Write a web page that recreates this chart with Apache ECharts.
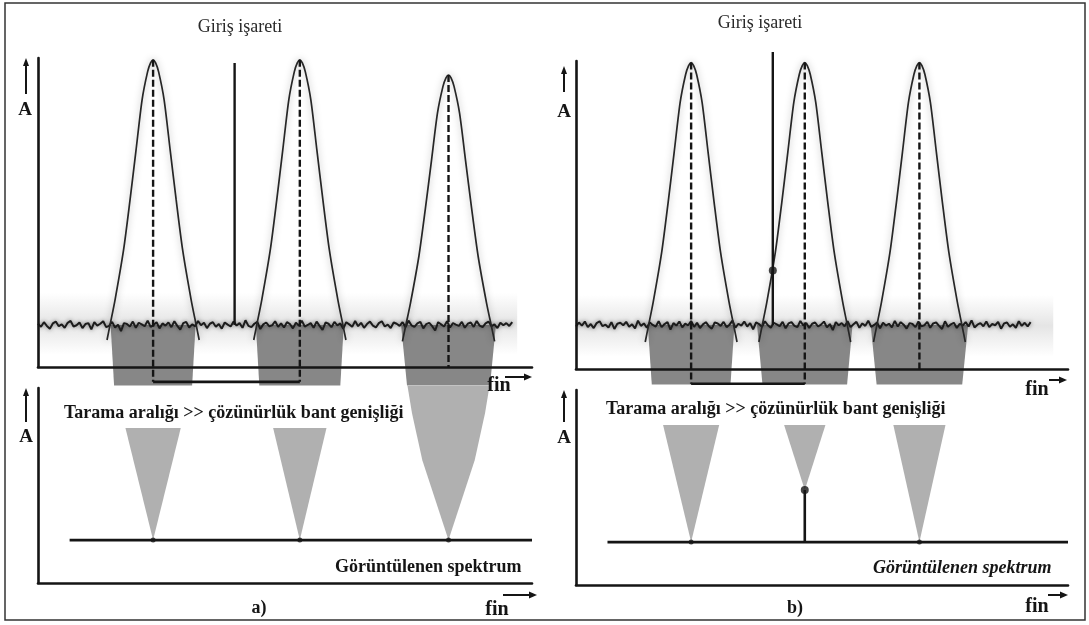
<!DOCTYPE html>
<html>
<head>
<meta charset="utf-8">
<script src="https://cdn.jsdelivr.net/npm/echarts@6.0.0/dist/echarts.min.js"></script>
<style>
  html, body { margin: 0; padding: 0; background: #fff; }
  #chart { width: 1089px; height: 625px; }
</style>
</head>
<body>
<div id="chart"></div>
<script>
// ---- data ---------------------------------------------------------------
// resolution filter centres (frequency units 0..100) and peak amplitudes
const filterCentersA = [23.3, 53.0, 83.1];
const filterPeaksA   = [9.94, 9.94, 9.45];
const filterCentersB = [23.4, 46.5, 69.8];
const filterPeaksB   = [9.95, 9.95, 9.95];

// filter response: [offset from centre, fraction of peak amplitude]
const filterShape = [
  [0, 1], [0.51, 0.99], [1.12, 0.961], [2.23, 0.87], [3.45, 0.707],
  [4.67, 0.544], [5.98, 0.381], [7.71, 0.218], [8.72, 0.137], [9.33, 0.088]
];

// input signal (Giriş işareti)
const inputSignalA = { freq: 39.8, top: 9.84 };
const inputSignalB = { freq: 40.0, top: 10.29, hit: 3.2 };

// noise floor and noise trace (offsets in hundredths of a level unit)
const noiseLevelA = 1.36;
const noiseLevelB = 1.43;
const noiseStep = 0.6;
const noiseA = [4,-6,9,-3,-12,5,11,-4,2,-9,7,13,-5,-1,8,-10,3,6,-14,9,-2,4,12,-7,-3,10,-8,1,-20,6,
  3,-5,11,-9,7,2,-4,14,-6,0,9,-11,5,-2,8,-7,12,-3,-15,6,10,-8,2,-4,13,-1,7,-10,4,9,
  -6,3,-12,8,1,-5,11,-2,6,-9,15,-3,-7,4,10,-13,2,8,-4,-1,12,-6,5,-8,9,3,-11,7,-2,14,
  -5,0,6,-9,11,-3,-16,8,4,-7,10,-1,5,-12,9,2,-6,13,-4,7,-9,3,11,-2,-8,6,12,-5,1,-10,
  8,4,-3,9,-7,14,-1,-6,5,10,-11,3,7,-4,-18,9,2,-5,12,-8,6,1,-3,10,-9,4,8,-6,13,-2,
  -7,5,11,-4,2,-10,7,-1,6,-3,9];
const noiseB = [-5,8,-2,11,-7,3,-10,6,12,-4,1,-8,9,-13,4,7,-1,10,-6,2,-11,14,-3,5,-9,8,0,-5,12,-7,
  3,9,-15,6,-2,11,-8,4,-1,13,-6,7,-10,2,9,-4,-12,8,5,-3,10,-7,1,14,-9,4,-2,11,-5,6,
  -14,8,3,-6,12,-1,-9,7,2,-4,10,-11,5,9,-3,-7,13,-2,6,-10,4,8,-5,1,11,-8,3,-17,9,-1,
  6,-4,12,-7,2,10,-9,5,-3,14,-6,0,8,-11,7,-2,4,-8,13,-5,9,1,-12,6,3,-7,11,-4,-1,10,
  -9,5,8,-3,-13,12,-6,2,7,-10,4,-2,9,-5,15,-8,1,6,-4,11,-7,3,-1,10,-12,5,8,-6,2,-9,
  12,-3,7,-5,9];

// light haze band around the noise floor: [level from, level to, freq end]
const noiseHaze = [0.4, 2.4, 97];

// sweep bracket between the first two filter positions
const bracketLevel = -0.48;

// displayed spectrum (lower plots)
const spectrumLevel = 2.2;
const spectrumStart = 6.4;
const displayedSpikeB = { freq: 46.5, level: 4.87 };

// shaded sweep funnels: rows of [level, half width]
const upperFunnelsA = [
  { c: 23.3, rows: [[1.36, 8.6], [-0.6, 7.9]] },
  { c: 53.0, rows: [[1.36, 8.9], [-0.6, 8.2]] },
  { c: 83.1, rows: [[1.36, 9.6], [-0.6, 8.4]] }
];
const lowerFunnelsA = [
  { c: 23.3, rows: [[7.95, 5.6], [2.2, 0]] },
  { c: 53.0, rows: [[7.95, 5.4], [2.2, 0]] },
  { c: 83.1, rows: [[10.1, 8.3], [8.72, 7.4], [6.3, 5.3], [2.2, 0]] }
];
const upperFunnelsB = [
  { c: 23.4, rows: [[1.43, 8.8], [-0.5, 8.0]] },
  { c: 46.5, rows: [[1.43, 9.7], [-0.5, 8.6]] },
  { c: 69.8, rows: [[1.43, 9.9], [-0.5, 8.7]] }
];
const lowerFunnelsB = [
  { c: 23.4, rows: [[8.2, 5.7], [2.2, 0]] },
  { c: 46.5, rows: [[8.2, 4.2], [4.87, 0]] },
  { c: 69.8, rows: [[8.2, 5.3], [2.2, 0]] }
];

// ---- helpers ------------------------------------------------------------
const INK = '#151515';
const SERIF = '"Liberation Serif", "DejaVu Serif", serif';

function filterCurve(c, peak) {
  const pts = [];
  for (let i = filterShape.length - 1; i > 0; i--) pts.push([c - filterShape[i][0], filterShape[i][1] * peak]);
  pts.push([c, peak]);
  for (let i = 1; i < filterShape.length; i++) pts.push([c + filterShape[i][0], filterShape[i][1] * peak]);
  return pts;
}

function funnelSeries(list, xi, color) {
  return {
    type: 'custom', xAxisIndex: xi, yAxisIndex: xi, z: 1, clip: false, silent: true,
    data: list.map(f => [f.c, f.rows[0][0]]),
    renderItem: function (params, api) {
      const f = list[params.dataIndex];
      const left = [], right = [];
      f.rows.forEach(r => {
        left.push(api.coord([f.c - r[1], r[0]]));
        right.unshift(api.coord([f.c + r[1], r[0]]));
      });
      return { type: 'polygon', shape: { points: left.concat(right) }, style: { fill: color } };
    }
  };
}

function lineSeries(xi, data, style, extra) {
  return Object.assign({
    type: 'line', xAxisIndex: xi, yAxisIndex: xi, data: data, symbol: 'none',
    clip: false, silent: true, z: 4, lineStyle: style
  }, extra || {});
}

function axisBase(gi, max) {
  return {
    type: 'value', gridIndex: gi, min: 0, max: max, z: 5,
    axisLine: { show: true, onZero: false, lineStyle: { color: INK, width: 2.6 } },
    axisTick: { show: false }, axisLabel: { show: false }, splitLine: { show: false }
  };
}

function panelSeries(top, bottom, centers, peaks, noise, noiseLevel, signal, upperF, lowerF, isB) {
  const s = [];
  // soft haze band behind the noise floor
  s.push({
    type: 'custom', xAxisIndex: top, yAxisIndex: top, z: 0, silent: true, clip: false,
    data: [[0, noiseHaze[0]]],
    renderItem: function (params, api) {
      const p0 = api.coord([0.3, noiseHaze[1]]);
      const p1 = api.coord([noiseHaze[2], noiseHaze[0]]);
      return { type: 'rect', shape: { x: p0[0], y: p0[1], width: p1[0] - p0[0], height: p1[1] - p0[1] },
        style: { fill: new echarts.graphic.LinearGradient(0, 0, 0, 1, [
          { offset: 0, color: 'rgba(220,220,220,0)' },
          { offset: 0.5, color: 'rgba(220,220,220,0.75)' },
          { offset: 1, color: 'rgba(220,220,220,0)' }
        ]) } };
    }
  });
  s.push(funnelSeries(upperF, top, '#878787'));
  s.push(funnelSeries(lowerF, bottom, '#b0b0b0'));
  // noise floor
  s.push(lineSeries(top, noise.map((v, i) => [i * noiseStep, noiseLevel + v / 100]),
    { color: '#1c1c1c', width: 2, shadowColor: 'rgba(0,0,0,0.5)', shadowBlur: 4 }, { z: 3 }));
  // filter curves
  centers.forEach((c, i) => {
    s.push(lineSeries(top, filterCurve(c, peaks[i]),
      { color: '#262626', width: 1.7, shadowColor: 'rgba(0,0,0,0.35)', shadowBlur: 7 }, { smooth: 0.25 }));
  });
  // dashed centre markers
  centers.forEach((c, i) => {
    const end = i < 2 ? bracketLevel : 0;
    s.push(lineSeries(top, [[c, peaks[i]], [c, end]], { color: INK, width: 2.4, type: [7, 3] }));
  });
  // bracket between first two centres
  s.push(lineSeries(top, [[centers[0], bracketLevel], [centers[1], bracketLevel]], { color: INK, width: 2.6 }));
  // input signal
  s.push(lineSeries(top, [[signal.freq, signal.top], [signal.freq, noiseLevel]], { color: INK, width: 2.4 }));
  if (isB) {
    s.push({ type: 'scatter', xAxisIndex: top, yAxisIndex: top, symbolSize: 8, z: 6, silent: true,
      itemStyle: { color: INK }, data: [[signal.freq, signal.hit]] });
  }
  // displayed spectrum
  s.push(lineSeries(bottom, [[spectrumStart, spectrumLevel], [100, spectrumLevel]], { color: INK, width: 2.6 }));
  const dots = isB ? [centers[0], centers[2]] : centers;
  s.push({ type: 'scatter', xAxisIndex: bottom, yAxisIndex: bottom, symbolSize: 5, z: 6, silent: true,
    itemStyle: { color: INK }, data: dots.map(c => [c, spectrumLevel]) });
  if (isB) {
    s.push(lineSeries(bottom, [[displayedSpikeB.freq, spectrumLevel], [displayedSpikeB.freq, displayedSpikeB.level]],
      { color: INK, width: 2.6 }));
    s.push({ type: 'scatter', xAxisIndex: bottom, yAxisIndex: bottom, symbolSize: 8, z: 6, silent: true,
      itemStyle: { color: INK }, data: [[displayedSpikeB.freq, displayedSpikeB.level]] });
  }
  return s;
}

function txt(text, x, y, size, opts) {
  opts = opts || {};
  return {
    type: 'text', x: x, y: y, z: 20, silent: true,
    style: {
      text: text, fill: opts.fill || INK,
      font: (opts.italic ? 'italic ' : '') + (opts.bold ? 'bold ' : '') + size + 'px ' + SERIF,
      align: opts.align || 'left', verticalAlign: 'middle',
      textAlign: opts.align || 'left', textVerticalAlign: 'middle'
    }
  };
}
function hArrow(x1, x2, y) {
  return [
    { type: 'line', z: 20, silent: true, shape: { x1: x1, y1: y, x2: x2 - 5, y2: y }, style: { stroke: INK, lineWidth: 2 } },
    { type: 'polygon', z: 20, silent: true, shape: { points: [[x2, y], [x2 - 8, y - 3.5], [x2 - 8, y + 3.5]] }, style: { fill: INK } }
  ];
}
function vArrow(x, yBottom, yTop) {
  return [
    { type: 'line', z: 20, silent: true, shape: { x1: x, y1: yBottom, x2: x, y2: yTop + 5 }, style: { stroke: INK, lineWidth: 2 } },
    { type: 'polygon', z: 20, silent: true, shape: { points: [[x, yTop], [x - 3, yTop + 8], [x + 3, yTop + 8]] }, style: { fill: INK } }
  ];
}

// ---- chart --------------------------------------------------------------
const chart = echarts.init(document.getElementById('chart'), null, { renderer: 'canvas' });

const graphics = [
  { type: 'rect', z: 0, silent: true, shape: { x: 5, y: 3, width: 1080, height: 617 },
    style: { fill: 'none', stroke: '#333', lineWidth: 1.5 } },
  txt('Giriş işareti', 240, 27, 18, { align: 'center', fill: '#2a2a2a' }),
  txt('Giriş işareti', 760, 23, 18, { align: 'center', fill: '#2a2a2a' }),
  txt('Tarama aralığı >> çözünürlük bant genişliği', 64, 413, 18, { bold: true }),
  txt('Tarama aralığı >> çözünürlük bant genişliği', 606, 409, 18, { bold: true }),
  txt('Görüntülenen spektrum', 335, 567, 18, { bold: true }),
  txt('Görüntülenen spektrum', 873, 568, 18, { bold: true, italic: true }),
  txt('a)', 259, 608, 18, { bold: true, align: 'center' }),
  txt('b)', 795, 608, 18, { bold: true, align: 'center' }),
  txt('fin', 499, 386, 20, { bold: true, align: 'center' }),
  txt('fin', 497, 610, 20, { bold: true, align: 'center' }),
  txt('fin', 1037, 390, 20, { bold: true, align: 'center' }),
  txt('fin', 1037, 607, 20, { bold: true, align: 'center' }),
  txt('A', 25, 110, 19, { bold: true, align: 'center' }),
  txt('A', 26, 437, 19, { bold: true, align: 'center' }),
  txt('A', 564, 112, 19, { bold: true, align: 'center' }),
  txt('A', 564, 438, 19, { bold: true, align: 'center' })
].concat(
  hArrow(505, 532, 377), hArrow(503, 537, 595), hArrow(1049, 1067, 380), hArrow(1048, 1068, 595),
  vArrow(26, 94, 58), vArrow(26, 422, 388), vArrow(564, 92, 66), vArrow(564, 422, 390)
);

chart.setOption({
  animation: false,
  backgroundColor: '#fff',
  grid: [
    { left: 38,  top: 58,  width: 494, height: 309 },
    { left: 38,  top: 388, width: 494, height: 195 },
    { left: 576, top: 61,  width: 492, height: 308 },
    { left: 576, top: 390, width: 492, height: 195 }
  ],
  xAxis: [axisBase(0, 100), axisBase(1, 100), axisBase(2, 100), axisBase(3, 100)],
  yAxis: [axisBase(0, 10), axisBase(1, 10), axisBase(2, 10), axisBase(3, 10)],
  series: [].concat(
    panelSeries(0, 1, filterCentersA, filterPeaksA, noiseA, noiseLevelA, inputSignalA, upperFunnelsA, lowerFunnelsA, false),
    panelSeries(2, 3, filterCentersB, filterPeaksB, noiseB, noiseLevelB, inputSignalB, upperFunnelsB, lowerFunnelsB, true)
  ),
  graphic: graphics
});
</script>
</body>
</html>
